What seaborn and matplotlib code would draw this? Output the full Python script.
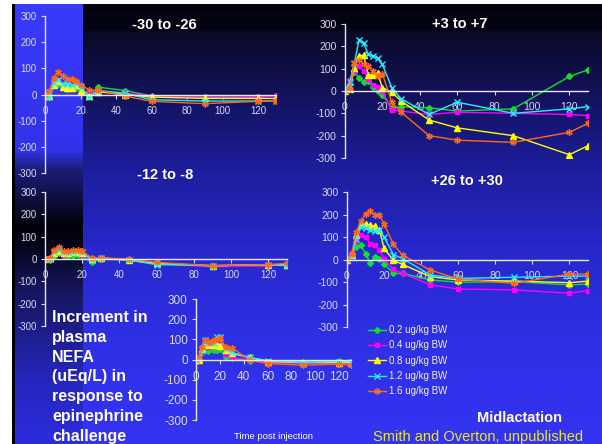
import matplotlib
matplotlib.use("Agg")
import matplotlib.pyplot as plt
import numpy as np
import pandas as pd
import seaborn as sns

TIME = [0, 2.5, 5, 7.5, 10, 12.5, 15, 17.5, 20, 25, 30, 45, 60, 90, 120, 130]
DOSES = ["0.2 ug/kg BW", "0.4 ug/kg BW", "0.8 ug/kg BW", "1.2 ug/kg BW", "1.6 ug/kg BW"]
COLORS = ["#11dd33", "#ff00ff", "#ffff00", "#22eeff", "#ff6a1a"]
MARKERS = ["D", "s", "^", "x", (6, 2, 0)]
MSIZE = [3.0, 3.4, 3.8, 4.0, 4.6]

# -30 to -26
P1_G = [0, -10, 35, 40, 35, 20, 25, 25, 25, -5, 28, 15, -5, -10, -10, -5]
P1_M = [0, -5, 50, 50, 35, 35, 30, 40, 25, 0, 15, 5, -5, -10, -10, -5]
P1_Y = [0, -5, 35, 50, 30, 25, 25, 35, 15, -5, 10, 0, -10, -15, -15, -15]
P1_C = [0, -10, 45, 55, 40, 40, 35, 40, 30, -10, 15, 5, -20, -25, -25, -25]
P1_O = [0, 13, 64, 86, 70, 58, 60, 51, 38, 17, 17, -6, -26, -35, -26, -26]

# +3 to +7
P2_G = [0, 30, 87, 57, 42, 45, 16, 1, -18, -75, -70, -75, -90, -80, 65, 95]
P2_M = [0, 50, 88, 112, 90, 52, 27, 16, 0, -85, -90, -105, -95, -100, -105, -110]
P2_Y = [0, 10, 105, 158, 160, 72, 72, 80, 15, -5, -45, -130, -165, -200, -285, -245]
P2_C = [0, 40, 125, 228, 213, 164, 157, 146, 119, 15, -35, -105, -50, -100, -80, -70]
P2_O = [0, 10, 125, 137, 122, 110, 90, 68, 78, -50, -95, -200, -220, -230, -185, -145]

# -12 to -8
P3_G = [0, -5, 15, 25, 15, 15, 15, 20, 15, -15, 0, -5, -20, -30, -30, -25]
P3_M = [0, 5, 30, 35, 20, 25, 25, 30, 20, 0, 5, -5, -20, -35, -30, -25]
P3_Y = [0, 5, 25, 35, 25, 25, 30, 30, 25, 0, 5, -5, -20, -30, -25, -25]
P3_C = [0, 0, 30, 40, 30, 25, 30, 35, 30, -5, 5, -5, -25, -30, -25, -30]
P3_O = [0, 5, 40, 55, 35, 35, 40, 40, 35, 5, 5, 0, -15, -30, -25, -20]

# +26 to +30
P4_G = [0, 20, 56, 63, 26, -15, 9, 4, -18, -62, -62, -91, -101, -98, -113, -109]
P4_M = [0, 30, 82, 107, 100, 71, 66, 41, 4, -44, -62, -113, -131, -135, -150, -138]
P4_Y = [0, 20, 107, 159, 156, 154, 147, 132, 49, -3, -22, -76, -91, -96, -103, -96]
P4_C = [0, 15, 90, 144, 141, 129, 126, 129, 100, 22, 4, -69, -84, -79, -74, -74]
P4_O = [0, 26, 122, 170, 203, 215, 199, 196, 159, 68, 19, -47, -87, -106, -65, -65]

# bottom panel (no title)
P5_G = [0, 0, 35, 45, 40, 50, 45, 45, 50, 10, 5, -5, -10, -10, -5, -10]
P5_M = [0, 0, 40, 60, 60, 60, 75, 80, 75, 25, 10, 0, -15, -20, -20, -20]
P5_Y = [0, 0, 50, 70, 75, 70, 70, 70, 65, 45, 30, 10, -10, -15, -15, -15]
P5_C = [0, 5, 45, 95, 80, 80, 80, 110, 110, 50, 35, 10, -5, -15, -10, -10]
P5_O = [0, 13, 60, 97, 88, 88, 97, 100, 105, 63, 58, -3, -20, -28, -23, -28]

PANELS = [
    ("-30 to -26", [P1_G, P1_M, P1_Y, P1_C, P1_O]),
    ("+3 to +7", [P2_G, P2_M, P2_Y, P2_C, P2_O]),
    ("-12 to -8", [P3_G, P3_M, P3_Y, P3_C, P3_O]),
    ("+26 to +30", [P4_G, P4_M, P4_Y, P4_C, P4_O]),
    ("", [P5_G, P5_M, P5_Y, P5_C, P5_O]),
]

W, H = 602, 444
TICK_COLOR = "#d8d8ee"


def px_axes(fig, left, right, top, bottom):
    return fig.add_axes([left / W, 1 - bottom / H, (right - left) / W, (bottom - top) / H])


def make_background() -> np.ndarray:
    ys = np.arange(H)
    main_y = [0, 30, 33, 80, 160, 250, 350, 444]
    main_c = [(2, 2, 12), (4, 4, 22), (10, 10, 40), (16, 16, 78), (28, 28, 150), (40, 40, 205), (48, 48, 232), (52, 52, 242)]
    strip_y = [0, 150, 170, 225, 245, 290, 380, 444]
    strip_c = [(58, 58, 252), (50, 50, 235), (28, 28, 120), (2, 2, 12), (5, 5, 25), (22, 22, 95), (38, 38, 190), (44, 44, 222)]
    main = np.stack([np.interp(ys, main_y, [c[i] for c in main_c]) for i in range(3)], axis=1)
    strip = np.stack([np.interp(ys, strip_y, [c[i] for c in strip_c]) for i in range(3)], axis=1)
    img = np.repeat(main[:, None, :], W, axis=1)
    img[:, 15:83, :] = strip[:, None, :]
    img[:, 12:15, :] = 0
    img[:5, :, :] = 255
    img[:, :12, :] = 255
    return img / 255.0


def draw_panel(ax, title, series, tick_size):
    df = pd.DataFrame(
        {
            "time": np.tile(TIME, len(DOSES)),
            "value": np.concatenate(series),
            "dose": np.repeat(DOSES, len(TIME)),
        }
    )
    sns.lineplot(
        data=df, x="time", y="value", hue="dose", hue_order=DOSES,
        palette=dict(zip(DOSES, COLORS)), lw=1.0, legend=False, ax=ax,
        sort=False, estimator=None,
    )
    for line, mk, ms in zip(ax.lines, MARKERS, MSIZE):
        line.set_marker(mk)
        line.set_markersize(ms)
        line.set_markeredgecolor(line.get_color())
        line.set_markerfacecolor(line.get_color())
        line.set_markeredgewidth(1.0)
    ax.set_xlim(0, 130)
    ax.set_ylim(-300, 300)
    ax.set_facecolor("none")
    ax.set_xlabel("")
    ax.set_ylabel("")
    ax.set_xticks(range(0, 121, 20))
    ax.set_yticks(range(-300, 301, 100))
    for side in ["top", "right"]:
        ax.spines[side].set_visible(False)
    ax.spines["bottom"].set_position(("data", 0))
    for side in ["left", "bottom"]:
        ax.spines[side].set_color("#e8e8f4")
        ax.spines[side].set_linewidth(1.0)
    ax.tick_params(axis="y", colors=TICK_COLOR, labelsize=tick_size, length=3, pad=3, direction="out")
    ax.tick_params(axis="x", colors=TICK_COLOR, labelsize=tick_size, length=3, pad=5, direction="out")
    ax.grid(False)


plt.rcParams["font.family"] = ["Liberation Sans", "DejaVu Sans"]
plt.rcParams["axes.unicode_minus"] = False

fig = plt.figure(figsize=(W / 100, H / 100), dpi=100)
bg = fig.add_axes([0, 0, 1, 1])
bg.imshow(make_background(), aspect="auto", interpolation="bilinear")
bg.set_axis_off()
bg.set_zorder(-10)

# pixel boxes: left, right(x=130), top(y=300), bottom(y=-300)
boxes = [(45, 276, 16, 173), (345, 588, 24, 158), (45, 287, 192, 326), (347, 588, 192, 327), (196, 351, 299, 420)]
tick_sizes = [7, 7.5, 7, 7.5, 8.5]
axes = []
for (title, series), box, ts in zip(PANELS, boxes, tick_sizes):
    ax = px_axes(fig, *box)
    draw_panel(ax, title, series, ts)
    axes.append(ax)

titles = [("-30 to -26", 164, 25), ("+3 to +7", 460, 24), ("-12 to -8", 165, 175), ("+26 to +30", 467, 181)]
for text, x, y in titles:
    fig.text(x / W, 1 - y / H, text, color="white", fontsize=10.5, fontweight="bold", ha="center", va="center")

fig.legend(
    handles=axes[0].lines[:5], labels=DOSES, loc="upper left",
    bbox_to_anchor=(368 / W, 1 - 325 / H), frameon=False, fontsize=7,
    labelcolor="#f0f0f8", handlelength=1.8, handletextpad=0.35,
    labelspacing=0.55, borderpad=0, borderaxespad=0, numpoints=1,
)

fig.text(52 / W, 1 - 310 / H,
         "Increment in\nplasma\nNEFA\n(uEq/L) in\nresponse to\nepinephrine\nchallenge",
         color="white", fontsize=11.5, fontweight="bold", ha="left", va="top", linespacing=1.4)
fig.text(274 / W, 1 - 436 / H, "Time post injection", color="white", fontsize=6.8, ha="center", va="center")
fig.text(519 / W, 1 - 418 / H, "Midlactation", color="white", fontsize=10.5, fontweight="bold", ha="center", va="center")
fig.text(478 / W, 1 - 437 / H, "Smith and Overton, unpublished", color="#e8e830", fontsize=10.5, ha="center", va="center")

fig.savefig("out.png", dpi=100)
